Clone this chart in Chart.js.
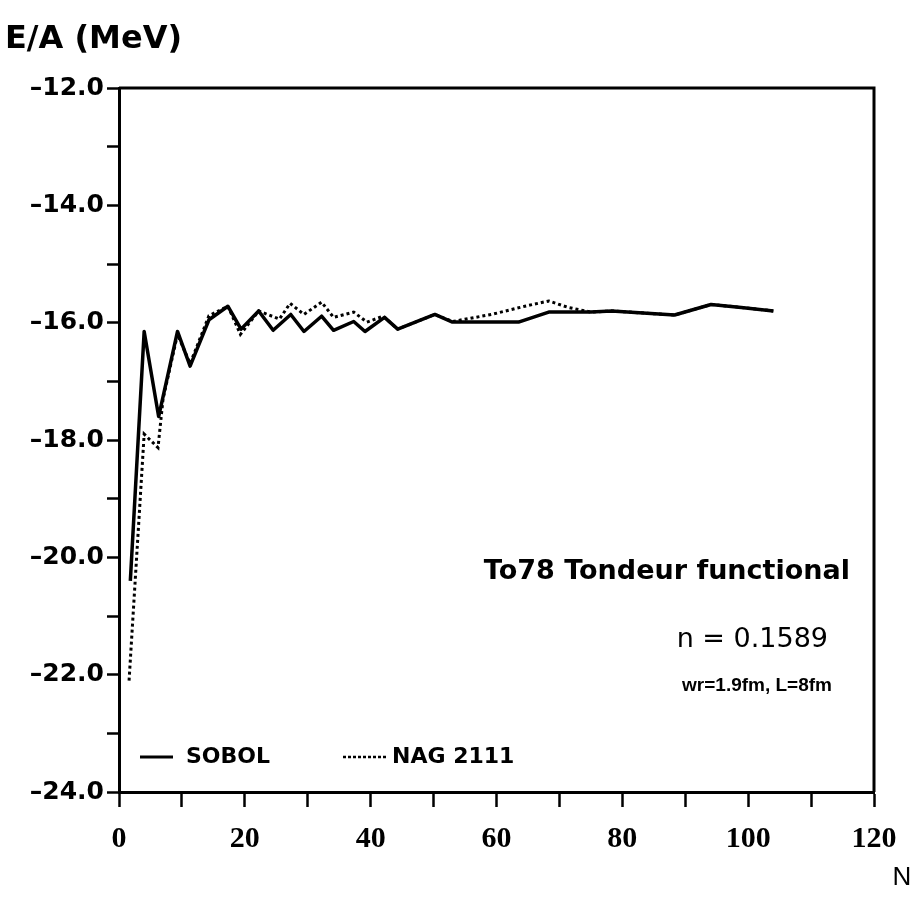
<!DOCTYPE html>
<html>
<head>
<meta charset="utf-8">
<script src="https://cdn.jsdelivr.net/npm/chart.js@4"></script>
<style>
  body { margin: 0; background: #fff; }
</style>
</head>
<body>
<canvas id="myChart" width="916" height="897"></canvas>
<script>
const ctx = document.getElementById('myChart');

// N values and E/A (MeV)
const nSobol = [1.8, 4, 6.3, 9.3, 11.3, 14.3, 17.3, 19.4, 22.2, 24.5, 27.3, 29.4, 32.2, 34.1, 37.3, 39.1, 42.2, 44.3, 50.2, 53, 63.5, 68.3, 75, 78.3, 88.3, 94.1, 98.9, 104];
const eSobol = [-20.4, -16.15, -17.6, -16.15, -16.74, -15.95, -15.72, -16.11, -15.8, -16.13, -15.86, -16.15, -15.89, -16.13, -15.98, -16.15, -15.91, -16.11, -15.86, -15.99, -15.99, -15.82, -15.82, -15.8, -15.87, -15.69, -15.74, -15.8];

const nNag = [1.6, 4, 6.2, 7, 9.3, 11.3, 14.3, 17.3, 19.3, 22.2, 25.5, 27.2, 29.4, 32.2, 34.1, 37.3, 39.4, 42, 44.3, 50.2, 53, 59.2, 64.5, 68.3, 71.4, 75, 78.3, 88.3, 94.1, 98.9, 104];
const eNag = [-22.1, -17.9, -18.13, -17.3, -16.2, -16.7, -15.88, -15.72, -16.2, -15.8, -15.94, -15.67, -15.86, -15.65, -15.91, -15.82, -15.99, -15.89, -16.11, -15.86, -15.98, -15.86, -15.72, -15.63, -15.74, -15.82, -15.8, -15.87, -15.69, -15.74, -15.8];

const xLabels = [0, 20, 40, 60, 80, 100, 120];
const yLabels = [-24, -22, -20, -18, -16, -14, -12];

const extras = {
    id: 'extras',
    afterDraw(chart) {
        const c = chart.ctx;
        const a = chart.chartArea;
        c.save();
        c.strokeStyle = '#000';
        c.lineWidth = 3;
        c.beginPath();
        c.moveTo(a.left, a.top);
        c.lineTo(a.right, a.top);
        c.lineTo(a.right, a.bottom);
        c.stroke();

        c.fillStyle = '#000';
        c.textBaseline = 'middle';

        c.font = 'bold 32px "DejaVu Sans"';
        c.textAlign = 'left';
        c.fillText('E/A (MeV)', 5, 40);

        c.font = '26px "Liberation Sans"';
        c.textAlign = 'center';
        c.fillText('N', 902, 878);

        c.textAlign = 'right';
        c.font = 'bold 27px "DejaVu Sans"';
        c.fillText('To78 Tondeur functional', 850, 572);
        c.font = '27px "DejaVu Sans"';
        c.fillText('n = 0.1589', 828, 640);
        c.font = 'bold 19px "Liberation Sans"';
        c.fillText('wr=1.9fm, L=8fm', 832, 686);

        // legend
        c.lineWidth = 3;
        c.beginPath();
        c.moveTo(140, 757);
        c.lineTo(173, 757);
        c.stroke();
        c.lineWidth = 2.5;
        c.setLineDash([3, 2]);
        c.beginPath();
        c.moveTo(343, 757);
        c.lineTo(387, 757);
        c.stroke();
        c.setLineDash([]);
        c.textAlign = 'left';
        c.font = 'bold 22px "DejaVu Sans"';
        c.fillText(chart.data.datasets[0].label, 186, 757);
        c.fillText(chart.data.datasets[1].label, 392, 757);
        c.restore();
    }
};

new Chart(ctx, {
    type: 'line',
    data: {
        datasets: [{
            label: 'SOBOL',
            data: nSobol.map(function(n, i) { return { x: n, y: eSobol[i] }; }),
            borderColor: '#000000',
            borderWidth: 3.5,
            pointRadius: 0,
            tension: 0,
            borderJoinStyle: 'round'
        }, {
            label: 'NAG 2111',
            data: nNag.map(function(n, i) { return { x: n, y: eNag[i] }; }),
            borderColor: '#000000',
            borderWidth: 3,
            borderDash: [3, 3],
            pointRadius: 0,
            tension: 0
        }]
    },
    options: {
        responsive: false,
        animation: false,
        layout: { padding: { top: 88, right: 42, left: 0, bottom: 0 } },
        plugins: {
            legend: { display: false },
            tooltip: { enabled: false }
        },
        scales: {
            x: {
                type: 'linear',
                min: 0,
                max: 120,
                ticks: {
                    stepSize: 10,
                    autoSkip: false,
                    maxRotation: 0,
                    padding: 14,
                    color: '#000',
                    font: { family: 'Liberation Serif', weight: 'bold', size: 30 },
                    callback: function(v) { return xLabels.includes(v) ? String(v) : ''; }
                },
                grid: { drawOnChartArea: false, tickLength: 15, tickWidth: 2.5, tickColor: '#000' },
                border: { color: '#000', width: 3 },
                afterFit: function(s) { s.height = 105; }
            },
            y: {
                min: -24,
                max: -12,
                ticks: {
                    stepSize: 1,
                    autoSkip: false,
                    padding: 3,
                    color: '#000',
                    font: { family: 'DejaVu Sans', weight: 'bold', size: 25 },
                    callback: function(v) {
                        return yLabels.includes(v) ? '\u2013' + Math.abs(v).toFixed(1) : '';
                    }
                },
                grid: { drawOnChartArea: false, tickLength: 12, tickWidth: 2.5, tickColor: '#000' },
                border: { color: '#000', width: 3 },
                afterFit: function(s) { s.width = 119; }
            }
        }
    },
    plugins: [extras]
});
</script>
</body>
</html>
